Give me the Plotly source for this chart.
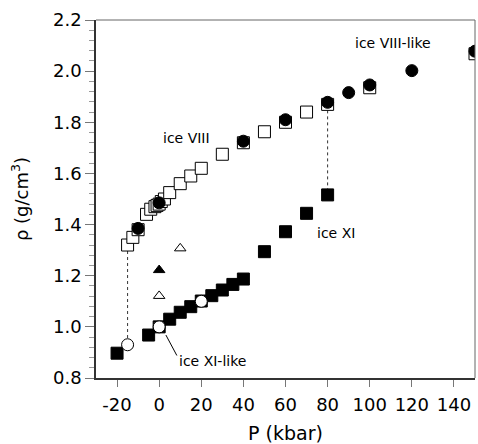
import plotly.graph_objects as go

# ice VIII (open squares)
p_viii = [-15, -12.5, -10, -6, -4, -2, -1, 0, 1, 2.5, 5, 10, 15, 20, 30, 40, 50, 60, 70, 80, 100, 150]
rho_viii = [1.32, 1.35, 1.38, 1.44, 1.46, 1.47, 1.475, 1.48, 1.49, 1.50, 1.525, 1.56, 1.59, 1.62,
            1.675, 1.72, 1.763, 1.80, 1.84, 1.87, 1.935, 2.068]

# ice VIII-like (filled circles)
p_viii_like = [-10, 0, 40, 60, 80, 90, 100, 120, 150]
rho_viii_like = [1.385, 1.485, 1.726, 1.81, 1.878, 1.916, 1.946, 2.002, 2.078]

# ice XI (filled squares)
p_xi = [-20, -5, 0, 5, 10, 15, 20, 25, 30, 35, 40, 50, 60, 70, 80]
rho_xi = [0.897, 0.968, 1.0, 1.03, 1.057, 1.079, 1.101, 1.122, 1.144, 1.166, 1.187, 1.294, 1.372, 1.444, 1.516]

# ice XI-like (open circles)
p_xi_like = [-15, 0, 20]
rho_xi_like = [0.93, 1.0, 1.10]

# triangles
p_tri_open = [10, 0]
rho_tri_open = [1.307, 1.121]
p_tri_fill = [0]
rho_tri_fill = [1.222]

# dotted connectors (transition pressures)
p_conn = [-15, 80]
rho_conn_top = [1.32, 1.87]
rho_conn_bot = [0.93, 1.516]

# tick labels
x_tickvals = [-20, 0, 20, 40, 60, 80, 100, 120, 140]
x_ticktext = ["-20", "0", "20", "40", "60", "80", "100", "120", "140"]
y_tickvals = [0.8, 1.0, 1.2, 1.4, 1.6, 1.8, 2.0, 2.2]
y_ticktext = ["0.8", "1.0", "1.2", "1.4", "1.6", "1.8", "2.0", "2.2"]

fig = go.Figure()

for p, top, bot in zip(p_conn, rho_conn_top, rho_conn_bot):
    fig.add_trace(go.Scatter(x=[p, p], y=[top, bot], mode="lines",
                             line=dict(color="#333", width=1, dash="dot"),
                             showlegend=False, hoverinfo="skip"))

fig.add_trace(go.Scatter(x=p_viii, y=rho_viii, mode="markers", name="ice VIII",
                         marker=dict(symbol="square", size=12, color="white",
                                     line=dict(color="black", width=1))))
fig.add_trace(go.Scatter(x=p_viii_like, y=rho_viii_like, mode="markers", name="ice VIII-like",
                         marker=dict(symbol="circle", size=12, color="black",
                                     line=dict(color="black", width=1))))
fig.add_trace(go.Scatter(x=p_xi, y=rho_xi, mode="markers", name="ice XI",
                         marker=dict(symbol="square", size=12, color="black",
                                     line=dict(color="black", width=1))))
fig.add_trace(go.Scatter(x=p_xi_like, y=rho_xi_like, mode="markers", name="ice XI-like",
                         marker=dict(symbol="circle", size=12, color="white",
                                     line=dict(color="black", width=1))))
fig.add_trace(go.Scatter(x=p_tri_open, y=rho_tri_open, mode="markers", name="open tri",
                         marker=dict(symbol="triangle-up", size=10, color="white",
                                     line=dict(color="black", width=1))))
fig.add_trace(go.Scatter(x=p_tri_fill, y=rho_tri_fill, mode="markers", name="filled tri",
                         marker=dict(symbol="triangle-up", size=10, color="black",
                                     line=dict(color="black", width=1))))

font_main = "DejaVu Sans, Arial, sans-serif"

fig.add_annotation(x=13, y=1.74, text="ice VIII", showarrow=False,
                   font=dict(size=14, color="black", family=font_main))
fig.add_annotation(x=111, y=2.109, text="ice VIII-like", showarrow=False,
                   font=dict(size=14, color="black", family=font_main))
fig.add_annotation(x=84, y=1.366, text="ice XI", showarrow=False,
                   font=dict(size=14, color="black", family=font_main))
fig.add_annotation(x=8.6, y=0.868, text="ice XI-like", showarrow=False, xanchor="left",
                   font=dict(size=14, color="black", family=font_main))
fig.add_shape(type="line", x0=3.2, y0=0.968, x1=8.4, y1=0.888,
              line=dict(color="black", width=1))

# top and right frame (thin gray)
fig.add_shape(type="line", xref="paper", yref="paper", x0=0, y0=1, x1=1, y1=1,
              line=dict(color="#666", width=1))
fig.add_shape(type="line", xref="paper", yref="paper", x0=1, y0=0, x1=1, y1=1,
              line=dict(color="#666", width=1))

fig.update_layout(
    width=478, height=444,
    margin=dict(l=96, r=3, t=20, b=66),
    plot_bgcolor="white", paper_bgcolor="white",
    showlegend=False,
    font=dict(family=font_main, size=18, color="black"),
    xaxis=dict(range=[-30, 150], tickmode="array", tickvals=x_tickvals, ticktext=x_ticktext,
               showgrid=False, zeroline=False, showline=True, linecolor="#333", linewidth=1.5,
               ticks="outside", ticklen=7, tickcolor="#777", tickwidth=1,
               tickfont=dict(size=18), ticklabeloverflow="allow", ticklabelstandoff=3,
               title=dict(text="P (kbar)", font=dict(size=19), standoff=12)),
    yaxis=dict(range=[0.8, 2.2], tickmode="array", tickvals=y_tickvals, ticktext=y_ticktext,
               showgrid=False, zeroline=False, showline=True, linecolor="#333", linewidth=1.5,
               ticks="outside", ticklen=9, tickcolor="#777", tickwidth=1,
               minor=dict(dtick=0.04, tick0=0.8, ticks="outside", ticklen=5, tickcolor="#999"),
               tickfont=dict(size=18),
               title=dict(text="ρ (g/cm<sup>3</sup>)", font=dict(size=18), standoff=20)),
)

fig.write_html("out.html", config={"displayModeBar": False},
               post_script="document.body.style.margin='0';document.body.style.overflow='hidden';")
